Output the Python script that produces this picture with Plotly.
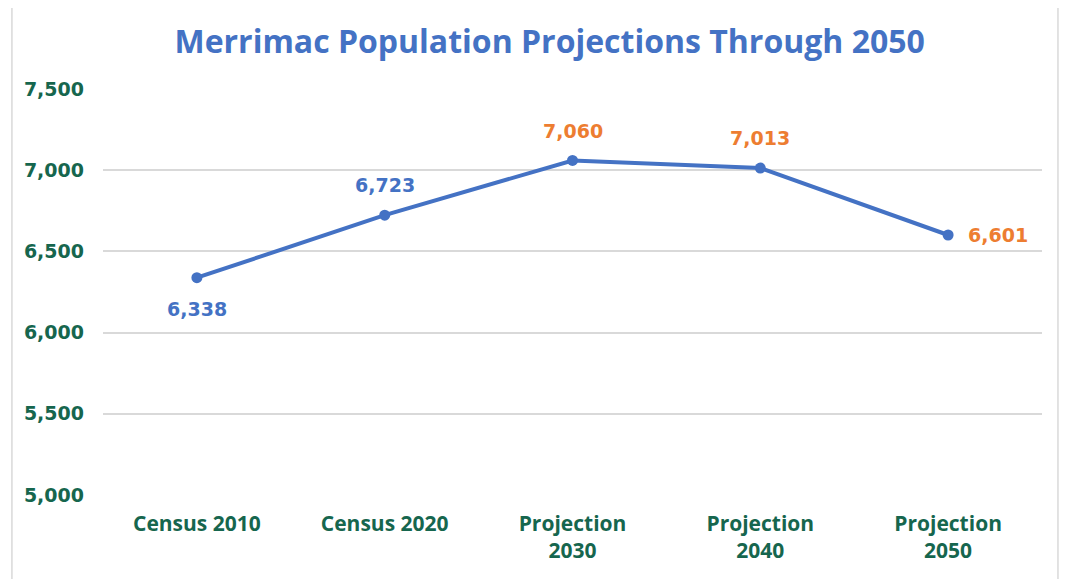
import plotly.graph_objects as go

categories = ["Census 2010", "Census 2020", "Projection<br>2030", "Projection<br>2040", "Projection<br>2050"]
population = [6338, 6723, 7060, 7013, 6601]
label_colors = ["#4472C4", "#4472C4", "#ED7D31", "#ED7D31", "#ED7D31"]
label_shift = [(0, -31), (0, 30), (0, 29), (0, 30), (50, 0)]
y_ticks = [5000, 5500, 6000, 6500, 7000, 7500]

fig = go.Figure()
fig.add_trace(go.Scatter(
    x=list(range(len(categories))),
    y=population,
    mode="lines+markers",
    line=dict(color="#4472C4", width=4),
    marker=dict(color="#4472C4", size=11),
    cliponaxis=False,
    showlegend=False,
))

for i, v in enumerate(population):
    fig.add_annotation(x=i, y=v, xref="x", yref="y", text=f"<b>{v:,}</b>", showarrow=False,
                       xshift=label_shift[i][0], yshift=label_shift[i][1],
                       font=dict(family="DejaVu Sans", size=19, color=label_colors[i]))

fig.update_layout(
    width=1060, height=571,
    margin=dict(l=95, r=26, t=81, b=84),
    paper_bgcolor="white", plot_bgcolor="white",
    title=dict(text="<b>Merrimac Population Projections Through 2050</b>",
               x=0.511, xanchor="center", y=0.94, yanchor="middle",
               font=dict(family="Open Sans", size=32, color="#4472C4")),
    xaxis=dict(range=[-0.5, 4.5], tickvals=list(range(len(categories))), ticktext=[f"<b>{c}</b>" for c in categories],
               showgrid=False, zeroline=False, showline=False, ticks="",
               tickfont=dict(family="Open Sans", size=21, color="#16664E")),
    yaxis=dict(range=[5000, 7500], tickvals=y_ticks, ticktext=[f"<b>{v:,}</b>" for v in y_ticks],
               showgrid=True, gridcolor="#D9D9D9", gridwidth=1.5, zeroline=False, showline=False,
               ticks="", ticklen=0, tickfont=dict(family="DejaVu Sans", size=19, color="#16664E")),
    shapes=[dict(type="rect", xref="paper", yref="paper", x0=-0.097, x1=1.017, y0=-0.3, y1=1.207,
                 line=dict(color="#D9D9D9", width=1.5), fillcolor="rgba(0,0,0,0)", layer="below")],
)
fig.update_yaxes(ticklabelstandoff=18)
fig.update_xaxes(ticklabelstandoff=14)

fig.write_html("out.html")
